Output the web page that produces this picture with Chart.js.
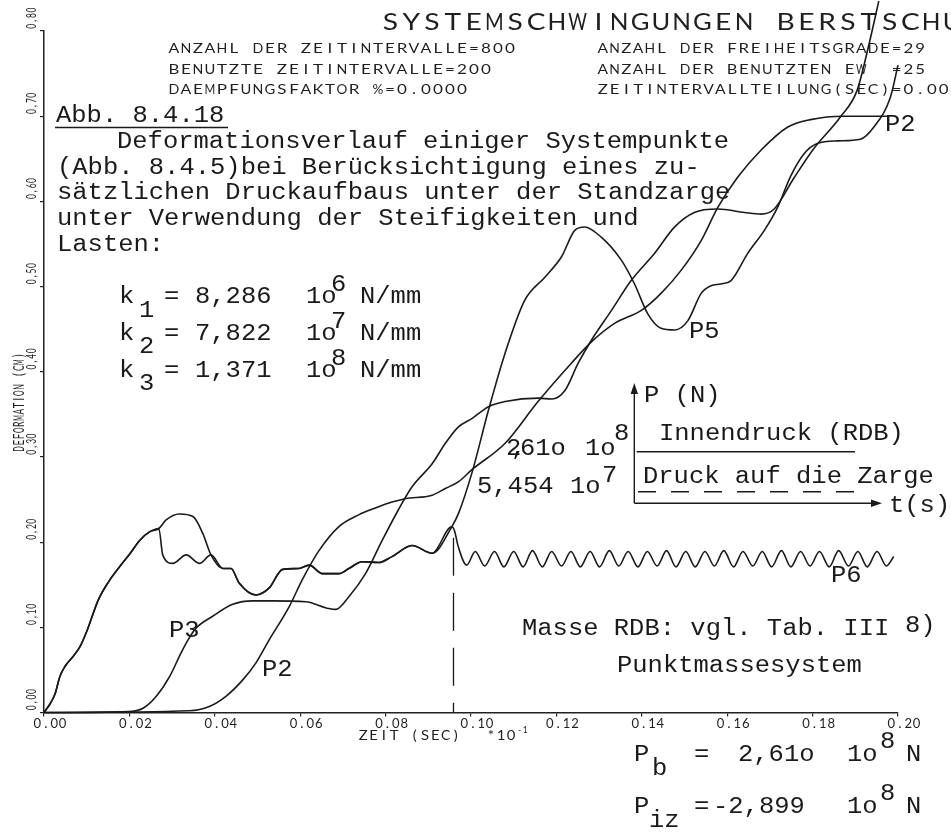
<!DOCTYPE html>
<html>
<head>
<meta charset="utf-8">
<style>
html,body{margin:0;padding:0;background:#fff;overflow:hidden}
canvas{display:block}
</style>
<script src="https://cdn.jsdelivr.net/npm/chart.js@4.4.1/dist/chart.umd.min.js"></script>
</head>
<body>
<canvas id="c" width="951" height="832"></canvas>
<script>
// ---------------- DATA ----------------
const X_TICKS = [0, 0.02, 0.04, 0.06, 0.08, 0.10, 0.12, 0.14, 0.16, 0.18, 0.20];
const X_TICK_LABELS = ['0.00','0.02','0.04','0.06','0.08','0.10','0.12','0.14','0.16','0.18','0.20'];
const Y_TICKS = [0, 0.1, 0.2, 0.3, 0.4, 0.5, 0.6, 0.7, 0.8];
const Y_TICK_LABELS = ['0,00','0,10','0,20','0,30','0,40','0,50','0,60','0,70','0,80'];

// common start of P5 and P6
const riseT = [0, .0014, .0026, .0037, .0049, .0065, .0084, .0100, .0127, .0152, .0177, .0202, .0224, .0247, .0269];
const riseV = [0, .010, .022, .042, .054, .064, .077, .095, .132, .154, .171, .187, .202, .212, .216];
// P6 branch after first maximum
const p6SplitT = [.0278, .0302, .0333, .0364];
const p6SplitV = [.185, .175, .185, .175];
// P5 branch after first maximum
const p5SplitT = [.0286, .0317, .0349, .0372];
const p5SplitV = [.226, .233, .230, .210];
// common middle part of P5 and P6
const midT = [.0391, .0419, .0438, .0457, .0496, .0527, .0559, .0597, .0621, .0652, .0691, .0714, .0745, .0784, .0815, .0862, .0909, .0955];
const midV = [.185, .169, .169, .152, .138, .146, .168, .169, .173, .163, .163, .169, .177, .176, .183, .196, .187, .218];
// P6 tail (oscillation)
const p6TailT = [.0961, .0970, .0990,
  .1010, .1032, .1055, .1077, .1100, .1122, .1144, .1167, .1189, .1212, .1234, .1256, .1279, .1301, .1324, .1346,
  .1368, .1391, .1413, .1436, .1458, .1480, .1503, .1525, .1548, .1570, .1592, .1615, .1637, .1660, .1682, .1704,
  .1727, .1749, .1772, .1794, .1816, .1839, .1861, .1884, .1906, .1928, .1951, .1973, .1990];
const p6TailV = [.214, .195, .173,
  .189, .172, .189, .171, .189, .171, .190, .171, .189, .172, .189, .171, .189, .171, .190, .172,
  .189, .171, .189, .172, .190, .171, .189, .171, .189, .172, .190, .171, .189, .172, .189, .171,
  .190, .171, .189, .172, .189, .171, .190, .172, .189, .171, .189, .172, .183];
// P5 tail
const p5TailT = [.0971, .1002, .1041, .1080, .1126, .1173, .1212, .1243, .1266, .1305, .1352, .1383, .1414, .1445, .1477, .1508, .1539, .1562, .1585, .1609, .1648, .1687, .1718, .1749, .1780, .1811, .1858, .1912, .1943, .1982, .2000];
const p5TailV = [.234, .281, .355, .422, .484, .511, .535, .566, .570, .558, .531, .503, .468, .451, .449, .460, .492, .501, .503, .507, .539, .566, .593, .630, .656, .668, .671, .673, .687, .722, .760];
// P2
const p2T = [0, .0341, .0387, .0426, .0465, .0496, .0527, .0574, .0605, .0644, .0690, .0737, .0776, .0815, .0846, .0909, .0940, .0971, .1002, .1080, .1157, .1235, .1282, .1337, .1399, .1445, .1492, .1539, .1578, .1624, .1679, .1741, .1795, .1873, .1974];
const p2V = [0, .002, .007, .019, .038, .058, .085, .124, .156, .190, .218, .232, .240, .247, .251, .255, .263, .271, .285, .316, .365, .410, .435, .457, .472, .492, .519, .554, .593, .628, .660, .687, .696, .700, .700];
// P3
const p3T = [0, .0197, .0232, .0263, .0294, .0321, .0337, .0356, .0395, .0442, .0489, .0535, .0613, .0667, .0683, .0714, .0753, .0792, .0830, .0862, .0909, .0940, .0970, .1002, .1041, .1080, .1158, .1189, .1220, .1251, .1282, .1329, .1375, .1430, .1477, .1523, .1578, .1640, .1679, .1710, .1757, .1803, .1865, .1904, .1930, .1955];
const p3V = [0, .001, .005, .019, .042, .070, .085, .099, .113, .127, .131, .131, .130, .122, .121, .136, .163, .202, .238, .265, .292, .316, .335, .345, .359, .365, .369, .368, .378, .410, .437, .472, .507, .539, .570, .587, .591, .587, .585, .591, .628, .662, .699, .730, .780, .835];
// vertical dashed marker (start of pressure build-up)
const markerT = [0.0959, 0.0959];
const markerV = [0.205, 0];

// ---------------- BUILD ----------------
const pts = (T, V) => T.map((t, i) => ({x: t, y: V[i]}));
const p6 = pts(riseT.concat(p6SplitT, midT, p6TailT), riseV.concat(p6SplitV, midV, p6TailV));
const p5 = pts(riseT.concat(p5SplitT, midT, p5TailT), riseV.concat(p5SplitV, midV, p5TailV));
const p2 = pts(p2T, p2V);
const p3 = pts(p3T, p3V);
const marker = pts(markerT, markerV);

const INK = '#1a1a1a';
const PLOT_INK = '#1f1f1f';
const curve = (data) => ({
  data, showLine: true, pointRadius: 0, borderColor: INK, borderWidth: 1.6,
  fill: false, cubicInterpolationMode: 'monotone', clip: false
});

// ---------------- TEXT HELPERS ----------------
function cells(ctx, str, x, y, pitch, font, sx) {
  ctx.font = font; ctx.textAlign = 'center'; ctx.textBaseline = 'alphabetic';
  for (let i = 0; i < str.length; i++) {
    const ch = str[i]; if (ch === ' ') continue;
    const w = ctx.measureText(ch).width; let s = sx || 1;
    if (w * s > pitch * 0.9) s = pitch * 0.9 / w;
    ctx.save(); ctx.translate(x + i * pitch + pitch / 2, y); ctx.scale(s, 1);
    ctx.fillText(ch, 0, 0); ctx.restore();
  }
}
function rotCells(ctx, str, x, y, pitch, font, sx) {
  ctx.save(); ctx.translate(x, y); ctx.rotate(-Math.PI / 2);
  cells(ctx, str, 0, 0, pitch, font, sx); ctx.restore();
}
const TW_SIZE = 23, TW_PITCH = 15.3;
const TW_SX = TW_PITCH / (0.6 * TW_SIZE);
function tw(ctx, str, x, y) {
  ctx.font = TW_SIZE + 'px "Liberation Mono", "DejaVu Sans Mono", monospace';
  ctx.textAlign = 'left'; ctx.textBaseline = 'alphabetic';
  ctx.save(); ctx.translate(x, y); ctx.scale(TW_SX, 1); ctx.fillText(str, 0, 0); ctx.restore();
}
function hline(ctx, x1, x2, y, dash) {
  ctx.save(); ctx.setLineDash(dash || []); ctx.beginPath(); ctx.moveTo(x1, y); ctx.lineTo(x2, y); ctx.stroke(); ctx.restore();
}

const PF = (s) => '400 ' + s + 'px Lato, "DejaVu Sans", sans-serif';

const annotPlugin = {
  id: 'annot',
  afterDraw(chart) {
    const ctx = chart.ctx, xs = chart.scales.x, ys = chart.scales.y;
    ctx.save();
    // ---- plotter texts ----
    ctx.fillStyle = PLOT_INK;
    cells(ctx, 'SYSTEMSCHWINGUNGEN BERSTSCHU', 380, 30, 20.8, PF(23.5), 1.2);
    cells(ctx, 'ANZAHL DER ZEITINTERVALLE=800', 168, 53.3, 12, PF(14), 1.22);
    cells(ctx, 'BENUTZTE ZEITINTERVALLE=200', 168, 73.8, 12, PF(14), 1.22);
    cells(ctx, 'DAEMPFUNGSFAKTOR %=0.0000', 168, 93.5, 12, PF(14), 1.22);
    cells(ctx, 'ANZAHL DER FREIHEITSGRADE=29', 597, 53.3, 11.75, PF(14), 1.2);
    cells(ctx, 'ANZAHL DER BENUTZTEN EW  =25', 597, 73.8, 11.75, PF(14), 1.2);
    cells(ctx, 'ZEITINTERVALLTEILUNG(SEC)=0.00', 597, 93.5, 11.75, PF(14), 1.2);
    // x tick labels
    X_TICKS.forEach((v, i) => {
      const px = xs.getPixelForValue(v) + 6;
      const s = X_TICK_LABELS[i];
      cells(ctx, s, px - s.length * 8.4 / 2, 728, 8.4, PF(12.5), 1.12);
    });
    // y tick labels (rotated)
    Y_TICKS.forEach((v, i) => {
      const py = ys.getPixelForValue(v);
      rotCells(ctx, Y_TICK_LABELS[i], 35.5, py - 2, 5.4, PF(12.5), 0.8);
    });
    // axis titles
    rotCells(ctx, 'DEFORMATION (CM)', 24, 452, 6.2, PF(14.5), 0.75);
    cells(ctx, 'ZEIT (SEC)', 358, 740, 10.3, PF(13.5), 1.1);
    cells(ctx, '*10', 486, 740, 10, PF(13.5), 1.1);
    cells(ctx, '-1', 517, 733, 5.5, PF(9));

    // ---- typewriter texts ----
    ctx.fillStyle = INK; ctx.strokeStyle = INK; ctx.lineWidth = 1.4;
    tw(ctx, 'Abb. 8.4.18', 56, 122);
    hline(ctx, 55, 228, 127.5);
    tw(ctx, 'Deformationsverlauf einiger Systempunkte', 117, 147.8);
    tw(ctx, '(Abb. 8.4.5)bei Berücksichtigung eines zu-', 57, 173.6);
    tw(ctx, 'sätzlichen Druckaufbaus unter der Standzarge', 57, 199.4);
    tw(ctx, 'unter Verwendung der Steifigkeiten und', 57, 225.2);
    tw(ctx, 'Lasten:', 57, 251);
    const kb = [303.3, 340, 376.7], ks = ['1', '2', '3'], kv = ['8,286', '7,822', '1,371'], ke = ['6', '7', '8'];
    kb.forEach((b, i) => {
      tw(ctx, 'k', 119, b); tw(ctx, ks[i], 139, b + 13.4); tw(ctx, '=', 164, b);
      tw(ctx, kv[i], 195, b); tw(ctx, '1o', 306, b); tw(ctx, ke[i], 331, b - 12); tw(ctx, 'N/mm', 360, b);
    });
    // curve labels
    tw(ctx, 'P3', 169, 637);
    tw(ctx, 'P2', 262, 676);
    tw(ctx, 'P2', 885, 131);
    tw(ctx, 'P5', 689, 338);
    tw(ctx, 'P6', 831, 582);
    // load values
    tw(ctx, '2', 506, 455); tw(ctx, ',', 511, 455); tw(ctx, '61o', 520, 455);
    tw(ctx, '1o', 585, 455); tw(ctx, '8', 614, 440);
    tw(ctx, '5,454', 477, 493.3); tw(ctx, '1o', 570, 493.3); tw(ctx, '7', 602, 481.5);
    // legend
    ctx.beginPath(); ctx.moveTo(634.3, 503.3); ctx.lineTo(634.3, 392); ctx.stroke();
    ctx.beginPath(); ctx.moveTo(634.3, 383); ctx.lineTo(630.6, 394); ctx.lineTo(638, 394); ctx.closePath(); ctx.fill();
    ctx.beginPath(); ctx.moveTo(634.3, 503.3); ctx.lineTo(872, 503.3); ctx.stroke();
    ctx.beginPath(); ctx.moveTo(882, 503.3); ctx.lineTo(871, 499.6); ctx.lineTo(871, 507); ctx.closePath(); ctx.fill();
    tw(ctx, 'P (N)', 644, 401.7);
    tw(ctx, 'Innendruck (RDB)', 659, 440);
    hline(ctx, 636.7, 855, 451.7);
    tw(ctx, 'Druck auf die Zarge', 643, 483.3);
    hline(ctx, 638, 858, 491.7, [18, 15]);
    tw(ctx, 't(s)', 889, 512);
    // notes
    tw(ctx, 'Masse RDB: vgl. Tab. III', 522, 635);
    tw(ctx, '8)', 905, 632);
    tw(ctx, 'Punktmassesystem', 617, 671.7);
    tw(ctx, 'P', 634, 761); tw(ctx, 'b', 652, 775); tw(ctx, '=', 694, 761);
    tw(ctx, '2,61o', 738, 761); tw(ctx, '1o', 847, 761); tw(ctx, '8', 880, 748); tw(ctx, 'N', 906, 761);
    tw(ctx, 'P', 634, 813); tw(ctx, 'iz', 649, 827); tw(ctx, '=', 694, 813);
    tw(ctx, '-2,899', 713, 813); tw(ctx, '1o', 847, 813); tw(ctx, '8', 880, 800); tw(ctx, 'N', 906, 813);
    ctx.restore();
  }
};

new Chart(document.getElementById('c'), {
  type: 'scatter',
  data: {
    datasets: [
      curve(p6), curve(p5), curve(p2), curve(p3),
      { data: marker, showLine: true, pointRadius: 0, borderColor: INK, borderWidth: 1.3,
        borderDash: [38, 17], tension: 0, fill: false, clip: false }
    ]
  },
  options: {
    responsive: false, animation: false, devicePixelRatio: 1,
    layout: { padding: { left: 40, right: 53, top: 31, bottom: 99.5 } },
    plugins: { legend: { display: false }, tooltip: { enabled: false } },
    scales: {
      x: {
        type: 'linear', min: 0, max: 0.2, position: 'bottom',
        afterBuildTicks: (s) => { s.ticks = X_TICKS.map(v => ({ value: v })); },
        afterFit: (s) => { s.height = 20; },
        ticks: { display: false },
        grid: { display: true, drawOnChartArea: false, drawTicks: true, tickLength: 4, color: '#222', lineWidth: 1.2 },
        border: { display: true, color: '#222', width: 1.5 }
      },
      y: {
        type: 'linear', min: 0, max: 0.8, position: 'left',
        afterBuildTicks: (s) => { s.ticks = Y_TICKS.map(v => ({ value: v })); },
        afterFit: (s) => { s.width = 4; },
        ticks: { display: false },
        grid: { display: true, drawOnChartArea: false, drawTicks: true, tickLength: 4, color: '#222', lineWidth: 1.2 },
        border: { display: true, color: '#222', width: 1.5 }
      }
    }
  },
  plugins: [annotPlugin]
});
</script>
</body>
</html>
